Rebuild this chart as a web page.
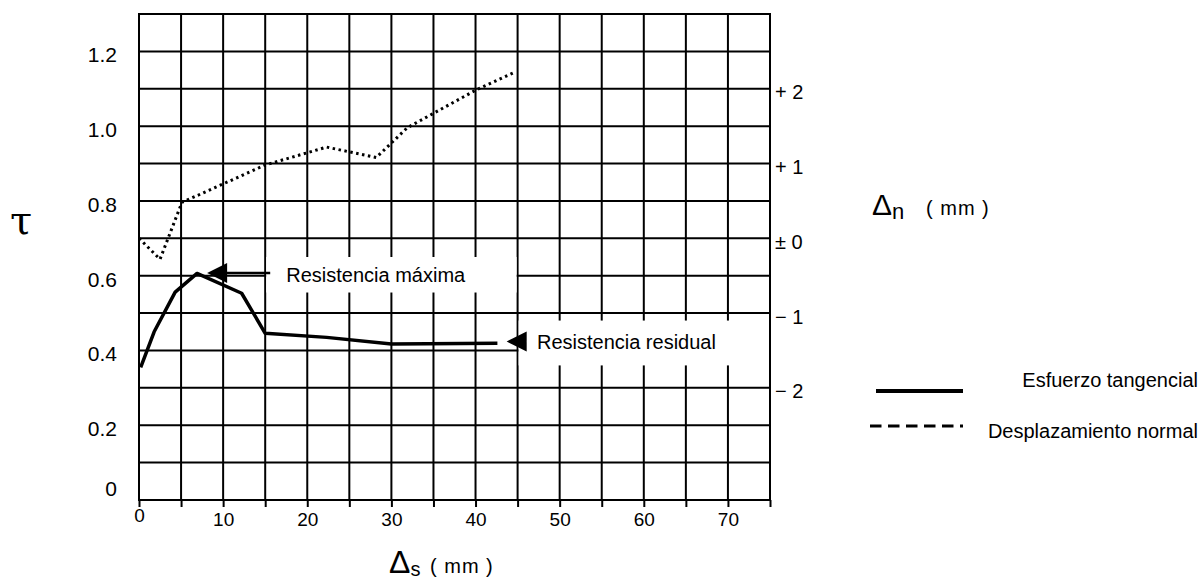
<!DOCTYPE html>
<html>
<head>
<meta charset="utf-8">
<script src="https://cdn.jsdelivr.net/npm/d3@7"></script>
<style>
  body { margin: 0; background: #fff; }
  svg { display: block; }
  text { font-family: 'Liberation Sans', Arial, sans-serif; fill: #000; }
</style>
</head>
<body>
<div id="chart"></div>
<script>
// esfuerzo tangencial (tau) vs desplazamiento de corte
const dsTau = [0.2, 1.8, 4.3, 6.9, 12.2, 15, 22.3, 30, 42.6]
const tauValues = [0.355, 0.45, 0.556, 0.606, 0.553, 0.446, 0.435, 0.417, 0.419]

// desplazamiento normal (mm) vs desplazamiento de corte
const dsNormal = [0, 2.5, 5.1, 15, 22.3, 28.2, 31.9, 40, 44.8]
const dnValues = [0.0, -0.28, 0.48, 0.98, 1.22, 1.08, 1.48, 1.98, 2.23]

const xTicks = [0, 10, 20, 30, 40, 50, 60, 70]
const tauTicks = [0, 0.2, 0.4, 0.6, 0.8, 1.0, 1.2]
const dnTicks = [2, 1, 0, -1, -2]
const dnTickLabels = ['+ 2', '+ 1', '± 0', '− 1', '− 2']

const legendLabels = ['Esfuerzo tangencial', 'Desplazamiento normal']

const W = 1202
const H = 581
const margin = { top: 14, right: 432, bottom: 81, left: 139 }

const svg = d3
  .select('#chart')
  .append('svg')
  .attr('width', W)
  .attr('height', H)

const x = d3
  .scaleLinear()
  .domain([0, 75])
  .range([margin.left, W - margin.right])

const y = d3
  .scaleLinear()
  .domain([0, 1.3])
  .range([H - margin.bottom, margin.top])

// right axis: 1 mm every two grid rows, zero at tau = 0.7
const yn = d3
  .scaleLinear()
  .domain([-3.5, 3])
  .range([H - margin.bottom, margin.top])

// grid
const grid = svg.append('g').attr('stroke', '#000').attr('stroke-width', 2)
grid
  .selectAll('.vline')
  .data(d3.range(0, 76, 5))
  .join('line')
  .attr('x1', d => x(d))
  .attr('x2', d => x(d))
  .attr('y1', y(1.3) - 1)
  .attr('y2', y(0) + 1)
grid
  .selectAll('.hline')
  .data(d3.range(0, 14).map(d => d / 10))
  .join('line')
  .attr('x1', x(0) - 1)
  .attr('x2', x(75) + 1)
  .attr('y1', d => y(d))
  .attr('y2', d => y(d))

// bottom axis
const xAxis = svg
  .append('g')
  .attr('transform', `translate(0,${y(0)})`)
  .call(
    d3
      .axisBottom(x)
      .tickValues(d3.range(0, 76, 5))
      .tickSize(7)
      .tickPadding(4)
      .tickFormat(d => (xTicks.includes(d) ? d : ''))
  )
xAxis.select('.domain').remove()
xAxis.selectAll('line').attr('stroke', '#000').attr('stroke-width', 2)
xAxis
  .selectAll('text')
  .style('font-size', '19px')
  .attr('dy', d => (d === 0 ? '0.6em' : '0.8em'))

// left axis
const yAxis = svg
  .append('g')
  .attr('transform', `translate(${x(0)},0)`)
  .call(
    d3
      .axisLeft(y)
      .tickValues(tauTicks)
      .tickSize(0)
      .tickPadding(22)
      .tickFormat(d => (d === 0 ? '0' : d.toFixed(1)))
  )
yAxis.select('.domain').remove()
yAxis
  .selectAll('text')
  .style('font-size', '21px')
  .attr('dy', d => (d === 0 ? '-0.2em' : '0.5em'))

// right axis
const nAxis = svg
  .append('g')
  .attr('transform', `translate(${x(75)},0)`)
  .call(
    d3
      .axisRight(yn)
      .tickValues(dnTicks)
      .tickSize(0)
      .tickPadding(5)
      .tickFormat((d, i) => dnTickLabels[i])
  )
nAxis.select('.domain').remove()
nAxis
  .selectAll('text')
  .style('font-size', '20px')
  .attr('dy', '0.5em')

// series
const tauLine = d3
  .line()
  .x(d => x(d[0]))
  .y(d => y(d[1]))
svg
  .append('path')
  .datum(dsTau.map((d, i) => [d, tauValues[i]]))
  .attr('d', tauLine)
  .attr('fill', 'none')
  .attr('stroke', '#000')
  .attr('stroke-width', 3.5)
  .attr('stroke-linejoin', 'round')

const normalLine = d3
  .line()
  .x(d => x(d[0]))
  .y(d => yn(d[1]))
svg
  .append('path')
  .datum(dsNormal.map((d, i) => [d, dnValues[i]]))
  .attr('d', normalLine)
  .attr('fill', 'none')
  .attr('stroke', '#000')
  .attr('stroke-width', 3)
  .attr('stroke-dasharray', '2.5,3.5')

// annotations
const notes = [
  { text: 'Resistencia máxima', x0: 15, x1: 45, t0: 0.65, t1: 0.555, tipX: 8.1, tipT: 0.607, shaft: true, tx: 17.5, tb: 0.583 },
  { text: 'Resistencia residual', x0: 45, x1: 75, t0: 0.48, t1: 0.36, tipX: 43.7, tipT: 0.424, shaft: false, tx: 47.3, tb: 0.404 }
]

notes.forEach(n => {
  svg
    .append('rect')
    .attr('x', x(n.x0) + 1)
    .attr('y', y(n.t0))
    .attr('width', x(n.x1) - x(n.x0) - 2)
    .attr('height', y(n.t1) - y(n.t0))
    .attr('fill', '#fff')

  const tx = x(n.tipX)
  const ty = y(n.tipT)
  if (n.shaft) {
    svg
      .append('line')
      .attr('x1', tx + 18)
      .attr('x2', x(n.x0) + 5)
      .attr('y1', ty)
      .attr('y2', ty)
      .attr('stroke', '#000')
      .attr('stroke-width', 2.5)
  }
  svg
    .append('path')
    .attr('d', `M${tx},${ty} L${tx + 20},${ty - 10} L${tx + 20},${ty + 10} Z`)
    .attr('fill', '#000')

  svg
    .append('text')
    .attr('x', x(n.tx))
    .attr('y', y(n.tb))
    .style('font-size', '20px')
    .text(n.text)
})

// axis titles
svg
  .append('text')
  .attr('x', 21)
  .attr('y', 234)
  .attr('text-anchor', 'middle')
  .style('font-family', "'DejaVu Serif', 'Liberation Serif', serif")
  .style('font-size', '40px')
  .text('τ')

const nTitle = svg.append('text').attr('x', 872).attr('y', 215)
nTitle.append('tspan').style('font-size', '30px').text('Δ')
nTitle.append('tspan').style('font-size', '22px').attr('dy', 4).text('n')
svg
  .append('text')
  .attr('x', 926)
  .attr('y', 215)
  .style('font-size', '20px')
  .style('letter-spacing', '1px')
  .text('( mm )')

const sTitle = svg.append('text').attr('x', 389).attr('y', 573)
sTitle.append('tspan').style('font-size', '32px').text('Δ')
sTitle.append('tspan').style('font-size', '20px').attr('dy', 3).text('s')
svg
  .append('text')
  .attr('x', 430)
  .attr('y', 573)
  .style('font-size', '20px')
  .style('letter-spacing', '1px')
  .text('( mm )')

// legend
const legend = svg
  .selectAll('.legend')
  .data(legendLabels)
  .join('g')
  .attr('class', 'legend')
  .attr('transform', (d, i) => `translate(0,${391 + i * 35})`)

legend
  .append('line')
  .attr('x1', (d, i) => (i === 0 ? 876 : 870))
  .attr('x2', 963)
  .attr('stroke', '#000')
  .attr('stroke-width', (d, i) => (i === 0 ? 4 : 3))
  .attr('stroke-dasharray', (d, i) => (i === 0 ? null : '11.5,6.5'))

legend
  .append('text')
  .attr('x', 1198)
  .attr('y', (d, i) => (i === 0 ? -4 : 12))
  .attr('text-anchor', 'end')
  .style('font-size', '20px')
  .text(d => d)
</script>
</body>
</html>
